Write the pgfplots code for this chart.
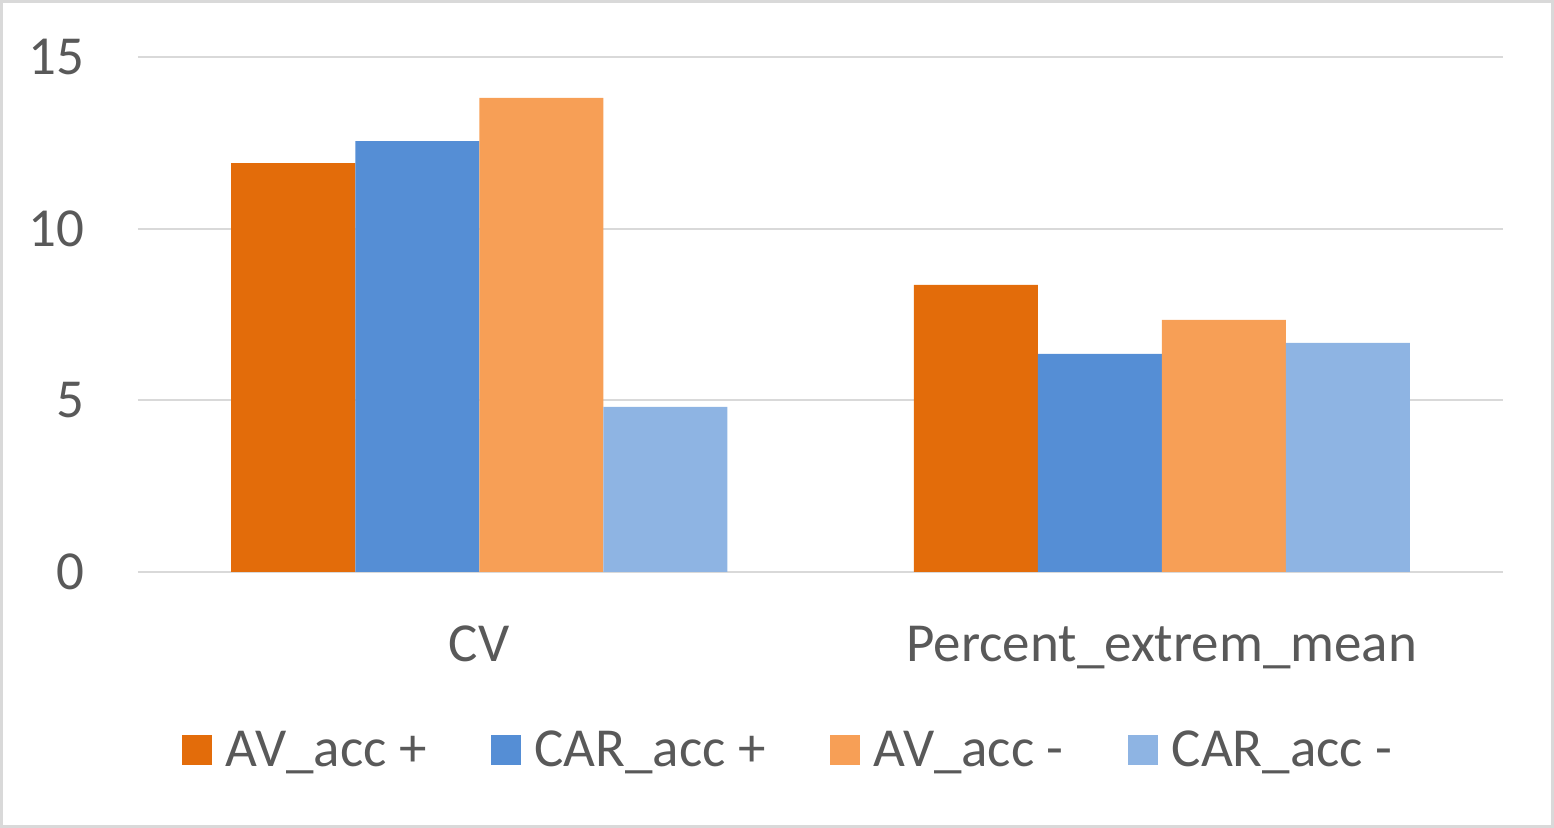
\documentclass[border=0pt]{standalone}
\usepackage{fontspec}
\setmainfont{Carlito}
\usepackage{pgfplots}
\pgfplotsset{compat=1.18}
\definecolor{avplus}{RGB}{227,108,10}
\definecolor{carplus}{RGB}{85,142,213}
\definecolor{avminus}{RGB}{247,159,86}
\definecolor{carminus}{RGB}{142,180,227}
\definecolor{gridgray}{RGB}{217,217,217}
\definecolor{textgray}{RGB}{89,89,89}
\begin{document}
\begin{tikzpicture}
% chart frame
\draw[gridgray, line width=1.5pt] (0.75pt,0.75pt) rectangle (776.25pt,413.25pt);
\begin{axis}[
  at={(69pt,128pt)}, anchor=south west,
  scale only axis, width=682.5pt, height=257.5pt,
  xmin=-0.5, xmax=1.5, ymin=0, ymax=15,
  ybar=0pt, bar width=62pt,
  xtick={0,1}, xticklabels={CV, Percent\_extrem\_mean},
  ytick={0,5,10,15},
  major tick length=0pt,
  axis line style={draw=none},
  ymajorgrids, major grid style={gridgray, line width=1pt},
  tick label style={font=\fontsize{27.5}{32}\selectfont, text=textgray},
  /pgf/number format/assume math mode=true,
  yticklabel style={anchor=east, inner sep=0pt, xshift=-26.5pt},
  xticklabel style={anchor=base, inner sep=0pt, yshift=-45pt},
  legend columns=4,
  legend style={at={(axis description cs:0.4755,-0.3456)}, anchor=center,
    draw=none, fill=none, font=\fontsize{27.5}{32}\selectfont, text=textgray,
    nodes={inner sep=0pt},
    /tikz/every odd column/.append style={column sep=7pt},
    /tikz/every even column/.append style={column sep=32pt}},
  legend image code/.code={\fill[#1] (0pt,-7.5pt) rectangle (15pt,7.5pt);},
]
  \addplot[fill=avplus, draw=none] coordinates {(0,11.91) (1,8.36)};
  \addlegendentry{AV\_acc +}
  \addplot[fill=carplus, draw=none] coordinates {(0,12.55) (1,6.35)};
  \addlegendentry{CAR\_acc +}
  \addplot[fill=avminus, draw=none] coordinates {(0,13.81) (1,7.34)};
  \addlegendentry{AV\_acc -}
  \addplot[fill=carminus, draw=none] coordinates {(0,4.81) (1,6.67)};
  \addlegendentry{CAR\_acc -}
\end{axis}
\end{tikzpicture}
\end{document}
